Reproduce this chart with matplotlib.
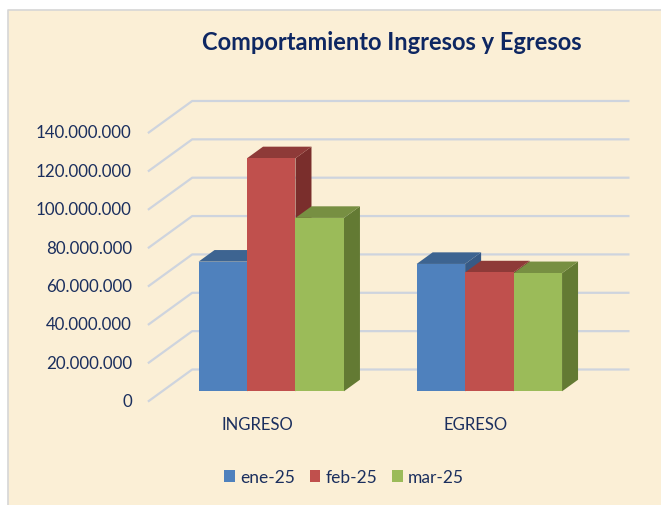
import matplotlib
matplotlib.use("Agg")
import matplotlib.pyplot as plt
import numpy as np
from matplotlib.patches import Polygon, Rectangle, Patch
from matplotlib.transforms import IdentityTransform

# ---------------- data ----------------
categories = ["INGRESO", "EGRESO"]
series_names = ["ene-25", "feb-25", "mar-25"]
ene_25 = [67_600_000, 66_400_000]
feb_25 = [121_500_000, 62_000_000]
mar_25 = [90_400_000, 61_600_000]
y_ticks = [0, 20_000_000, 40_000_000, 60_000_000, 80_000_000,
           100_000_000, 120_000_000, 140_000_000]
y_tick_labels = ["0", "20.000.000", "40.000.000", "60.000.000", "80.000.000",
                 "100.000.000", "120.000.000", "140.000.000"]
title = "Comportamiento Ingresos y Egresos"

# ---------------- style ----------------
FONT = ["Lato", "DejaVu Sans"]
TEXT_COLOR = "#1B2F5E"
TITLE_COLOR = "#0E2762"
BG = "#FBEFD6"
GRID = "#CED4DE"
front_cols = ["#4F81BD", "#C0504D", "#9BBB59"]
top_cols = ["#3D6491", "#8E3A38", "#778F42"]
side_cols = ["#375A85", "#7A2E2C", "#637A33"]

W, H, DPI = 661, 506, 100
fig = plt.figure(figsize=(W / DPI, H / DPI), dpi=DPI)
fig.patch.set_facecolor("white")

# chart area background (no edge) plus left/top border lines
x_border = 8 / W
y_border = 1 - 11 / H
fig.patches.append(Rectangle((x_border, 0), 1 - x_border, y_border,
                             transform=fig.transFigure, facecolor=BG,
                             edgecolor="none", zorder=-10))
fig.add_artist(plt.Line2D([x_border, x_border, 1], [0, y_border, y_border],
                          transform=fig.transFigure, color="#D6D6D6",
                          linewidth=1.2, zorder=-9))

# axes representing the bars' front plane
ax_left, ax_right = 162.2, 598.4
ax_bottom_px = 392.3
px_per_val = 1.918 / 1e6
ymax = 140_000_000
ax = fig.add_axes([ax_left / W, (H - ax_bottom_px) / H,
                   (ax_right - ax_left) / W, ymax * px_per_val / H])
ax.set_xlim(-0.5, 1.5)
ax.set_ylim(0, ymax)
ax.axis("off")

# depth offsets in display pixels (x right, y up)
FRONT = np.array([-13.4, -9.7])   # front plane of the floor / side wall
BACK = np.array([30.0, 21.8])     # back wall
BAR_DEPTH = np.array([16.0, 11.6])


def P(x, v, off=(0, 0)):
    return ax.transData.transform((x, v)) + np.asarray(off)


# back wall gridlines and side wall diagonals
for v in y_ticks:
    x0 = P(-0.5, v, BACK)
    x1 = P(1.5, v, BACK)
    f0 = P(-0.5, v, FRONT)
    fig.add_artist(plt.Line2D([f0[0], x0[0], x1[0]], [f0[1], x0[1], x1[1]],
                              transform=IdentityTransform(), color=GRID,
                              linewidth=1.6, zorder=1))

# tick labels at front plane
for v, lab in zip(y_ticks, y_tick_labels):
    p = P(-0.5, v, FRONT)
    fig.text(p[0] - 17, p[1], lab, transform=IdentityTransform(),
             ha="right", va="center", fontsize=12.2, color=TEXT_COLOR,
             family=FONT)

# bars
n = len(series_names)
bw = 1.0 / (n + 1.5)
values = [ene_25, feb_25, mar_25]
for ci in range(len(categories)):
    for si in range(n):
        v = values[si][ci]
        xl = ci - n * bw / 2 + si * bw
        xr = xl + bw
        fl, fr = P(xl, 0), P(xr, 0)
        tl, tr = P(xl, v), P(xr, v)
        d = BAR_DEPTH
        side = Polygon([fr, tr, tr + d, fr + d], closed=True,
                       transform=IdentityTransform(), facecolor=side_cols[si],
                       edgecolor="none", zorder=3)
        top = Polygon([tl, tr, tr + d, tl + d], closed=True,
                      transform=IdentityTransform(), facecolor=top_cols[si],
                      edgecolor="none", zorder=3)
        front = Polygon([fl, fr, tr, tl], closed=True,
                        transform=IdentityTransform(), facecolor=front_cols[si],
                        edgecolor="none", zorder=3)
        for patch in (side, top, front):
            fig.add_artist(patch)

# category labels
for ci, cat in enumerate(categories):
    p = P(ci, 0, FRONT)
    fig.text(p[0], p[1] - 23, cat, transform=IdentityTransform(),
             ha="center", va="center", fontsize=12, color=TEXT_COLOR,
             family=FONT)

# title
fig.text(392 / W, 1 - 42 / H, title, ha="center", va="center",
         fontsize=17, fontweight="bold", color=TITLE_COLOR, family=FONT)

# legend
handles = [Patch(facecolor=c, edgecolor="none", label=s)
           for c, s in zip(front_cols, series_names)]
leg = fig.legend(handles=handles, loc="center", ncol=3,
                 bbox_to_anchor=(344 / W, 1 - 478 / H), frameon=False,
                 handlelength=0.62, handleheight=0.62, handletextpad=0.3,
                 columnspacing=0.85, prop={"family": FONT, "size": 12.5})
for t in leg.get_texts():
    t.set_color(TEXT_COLOR)

fig.savefig("out.png", dpi=DPI, facecolor=fig.get_facecolor())
